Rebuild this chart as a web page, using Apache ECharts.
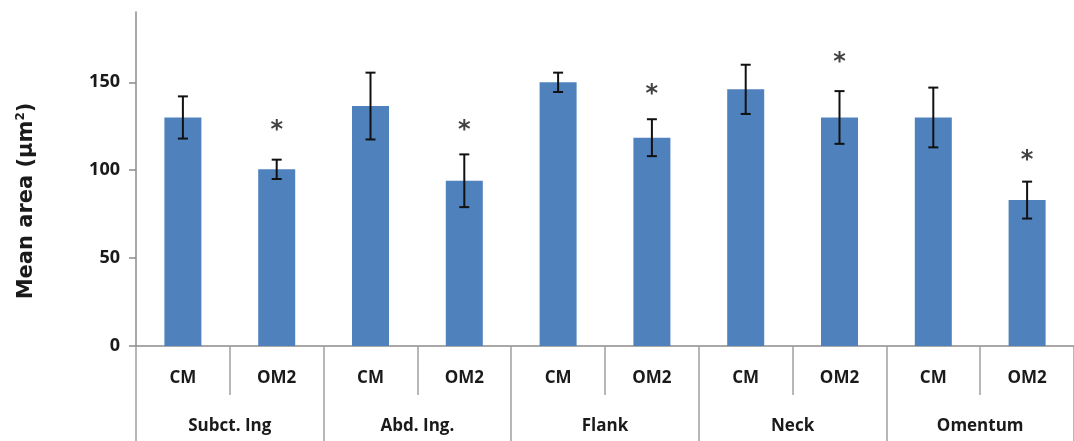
<!DOCTYPE html>
<html><head><meta charset="utf-8">
<script src="https://cdn.jsdelivr.net/npm/echarts@6/dist/echarts.min.js"></script>
<style>html,body{margin:0;padding:0;background:#fff}#c{width:1074px;height:441px}</style>
</head><body><div id="c"></div>
<script>
const groups = ['Subct. Ing', 'Abd. Ing.', 'Flank', 'Neck', 'Omentum'];
const treatments = ['CM', 'OM2', 'CM', 'OM2', 'CM', 'OM2', 'CM', 'OM2', 'CM', 'OM2'];
const means = [130, 100.5, 136.5, 94, 150, 118.5, 146, 130, 130, 83];
const errors = [12, 5.5, 19, 15, 5.5, 10.5, 14, 15, 17, 10.5];
const starIdx = [1, 3, 5, 7, 9];
const starY = [125, 125, 146, 164, 108];
const yTicks = [0, 50, 100, 150];

const chart = echarts.init(document.getElementById('c'));
const errData = means.map((m, i) => [i, m - errors[i], m + errors[i]]);
const starData = starIdx.map((k, i) => [k, starY[i]]);
const font = 'Open Sans';

chart.setOption({
  animation: false,
  grid: { left: 136, right: -5, top: 12, bottom: 95, containLabel: false },
  xAxis: [
    {
      type: 'category', data: treatments, position: 'bottom',
      axisLine: { show: true, lineStyle: { color: '#8c8c8c', width: 1.5 } },
      axisTick: { show: true, interval: 0, length: 49, inside: false, lineStyle: { color: '#a0a0a0', width: 1.5 } },
      axisLabel: { interval: 0, margin: 24, color: '#1a1a1a', fontFamily: font, fontWeight: 'bold', fontSize: 17 }
    },
    {
      type: 'category', data: groups, position: 'bottom', gridIndex: 0,
      axisLine: { show: false },
      axisTick: { show: true, interval: 0, length: 100, lineStyle: { color: '#a0a0a0', width: 1.5 } },
      axisLabel: { interval: 0, margin: 72, color: '#1a1a1a', fontFamily: font, fontWeight: 'bold', fontSize: 17 }
    }
  ],
  yAxis: {
    type: 'value', min: 0, max: 190, interval: 50,
    splitLine: { show: false },
    axisLine: { show: true, lineStyle: { color: '#8c8c8c', width: 1.5 } },
    axisTick: { show: true, length: 7, customValues: yTicks, lineStyle: { color: '#8c8c8c', width: 1.5 } },
    axisLabel: { customValues: yTicks, margin: 16, color: '#1a1a1a', fontFamily: font, fontWeight: 'bold', fontSize: 18 }
  },
  graphic: [{
    type: 'text', x: 27, y: 201, rotation: Math.PI / 2,
    style: {
      text: '{a|Mean area (μm}{s|2}{a|)}',
      align: 'center', verticalAlign: 'middle',
      rich: {
        a: { fontFamily: 'DejaVu Sans', fontWeight: 'bold', fontSize: 21, fill: '#1a1a1a', lineHeight: 24 },
        s: { fontFamily: 'DejaVu Sans', fontWeight: 'bold', fontSize: 12, fill: '#1a1a1a', lineHeight: 24, verticalAlign: 'top' }
      }
    }
  }],
  series: [
    {
      type: 'bar', xAxisIndex: 0, data: means, barWidth: 37,
      itemStyle: { color: '#4F81BD' }
    },
    {
      type: 'custom', xAxisIndex: 0, data: errData, z: 5,
      renderItem: function (params, api) {
        const x = api.coord([api.value(0), 0])[0];
        const lo = api.coord([api.value(0), api.value(1)])[1];
        const hi = api.coord([api.value(0), api.value(2)])[1];
        const w = 5;
        const st = { stroke: '#111', lineWidth: 2 };
        return { type: 'group', children: [
          { type: 'line', shape: { x1: x, y1: lo, x2: x, y2: hi }, style: st },
          { type: 'line', shape: { x1: x - w, y1: lo, x2: x + w, y2: lo }, style: st },
          { type: 'line', shape: { x1: x - w, y1: hi, x2: x + w, y2: hi }, style: st }
        ] };
      }
    },
    {
      type: 'scatter', xAxisIndex: 0, data: starData, symbolSize: 1,
      itemStyle: { color: 'rgba(0,0,0,0)' },
      label: { show: true, formatter: '*', position: 'inside', offset: [0, 5], fontFamily: 'DejaVu Sans', fontWeight: 'bold', fontSize: 24, color: '#111' }
    }
  ]
});
</script></body></html>
